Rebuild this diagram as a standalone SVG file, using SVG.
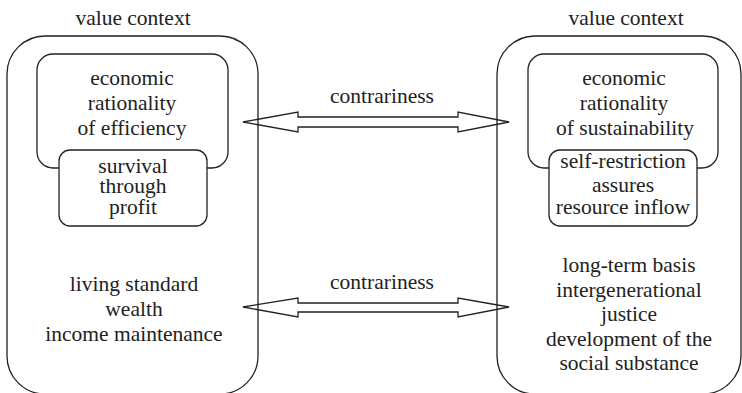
<svg xmlns="http://www.w3.org/2000/svg" width="742" height="393" viewBox="0 0 742 393">
  <style>
    .box { fill: #fff; stroke: #222; stroke-width: 1.3; }
    .arrow { fill: none; stroke: #222; stroke-width: 1.3; stroke-linejoin: miter; }
    text { font-size: 21.5px; fill: #222; text-anchor: middle; }
  </style>
  <rect width="742" height="393" fill="#fff"/>

  <!-- left value context -->
  <g id="left-context">
    <text x="133" y="25" font-family="Liberation Serif, Times New Roman, DejaVu Serif, serif">value context</text>
    <rect class="box" x="7" y="36" width="251" height="358" rx="38" ry="38"/>
    <text x="134" y="291" font-family="Liberation Serif, Times New Roman, DejaVu Serif, serif">living standard</text>
    <text x="134" y="316" font-family="Liberation Serif, Times New Roman, DejaVu Serif, serif">wealth</text>
    <text x="134" y="341" font-family="Liberation Serif, Times New Roman, DejaVu Serif, serif">income maintenance</text>
  </g>
  <g id="left-rationality">
    <rect class="box" x="37" y="54" width="191" height="114" rx="16" ry="16"/>
    <text x="132" y="85" font-family="Liberation Serif, Times New Roman, DejaVu Serif, serif">economic</text>
    <text x="132" y="110" font-family="Liberation Serif, Times New Roman, DejaVu Serif, serif">rationality</text>
    <text x="132" y="135" font-family="Liberation Serif, Times New Roman, DejaVu Serif, serif">of efficiency</text>
  </g>
  <g id="left-survival">
    <rect class="box" x="59" y="150" width="148" height="76" rx="11" ry="11"/>
    <text x="133" y="173" font-family="Liberation Serif, Times New Roman, DejaVu Serif, serif">survival</text>
    <text x="133" y="193" font-family="Liberation Serif, Times New Roman, DejaVu Serif, serif">through</text>
    <text x="133" y="214" font-family="Liberation Serif, Times New Roman, DejaVu Serif, serif">profit</text>
  </g>

  <!-- right value context -->
  <g id="right-context">
    <text x="626" y="25" font-family="Liberation Serif, Times New Roman, DejaVu Serif, serif">value context</text>
    <rect class="box" x="497" y="36" width="244" height="358" rx="38" ry="38"/>
    <text x="629" y="272" font-family="Liberation Serif, Times New Roman, DejaVu Serif, serif">long-term basis</text>
    <text x="629" y="297" font-family="Liberation Serif, Times New Roman, DejaVu Serif, serif">intergenerational</text>
    <text x="629" y="321" font-family="Liberation Serif, Times New Roman, DejaVu Serif, serif">justice</text>
    <text x="629" y="346" font-family="Liberation Serif, Times New Roman, DejaVu Serif, serif">development of the</text>
    <text x="629" y="370" font-family="Liberation Serif, Times New Roman, DejaVu Serif, serif">social substance</text>
  </g>
  <g id="right-rationality">
    <rect class="box" x="528" y="54" width="190" height="114" rx="16" ry="16"/>
    <text x="624" y="85" font-family="Liberation Serif, Times New Roman, DejaVu Serif, serif">economic</text>
    <text x="624" y="110" font-family="Liberation Serif, Times New Roman, DejaVu Serif, serif">rationality</text>
    <text x="625" y="135" font-family="Liberation Serif, Times New Roman, DejaVu Serif, serif">of sustainability</text>
  </g>
  <g id="right-restriction">
    <rect class="box" x="549" y="150" width="148" height="76" rx="11" ry="11"/>
    <text x="623" y="168" font-family="Liberation Serif, Times New Roman, DejaVu Serif, serif">self-restriction</text>
    <text x="623" y="192" font-family="Liberation Serif, Times New Roman, DejaVu Serif, serif">assures</text>
    <text x="623" y="214" font-family="Liberation Serif, Times New Roman, DejaVu Serif, serif">resource inflow</text>
  </g>

  <!-- connectors: double-headed block arrows -->
  <g id="connectors">
    <path class="arrow" d="M243,122 L298,112 L298,117 L458,117 L458,112 L509,122 L458,132 L458,127 L298,127 L298,132 Z"/>
    <text x="382" y="103" font-family="Liberation Serif, Times New Roman, DejaVu Serif, serif">contrariness</text>
    <path class="arrow" d="M243,307 L298,298 L298,303 L458,303 L458,298 L509,307 L458,317 L458,312 L298,312 L298,317 Z"/>
    <text x="382" y="289" font-family="Liberation Serif, Times New Roman, DejaVu Serif, serif">contrariness</text>
  </g>
</svg>
